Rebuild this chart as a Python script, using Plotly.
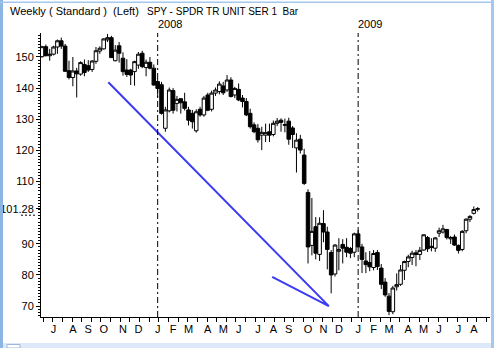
import pandas as pd
import plotly.graph_objects as go

# ---------------- data ----------------
week_ending = pd.date_range("2007-06-15", periods=114, freq="W-FRI")

open_ = [150.1, 153.3, 150.4, 150.9, 153.2, 155.2, 153.5, 145.6, 143.4, 145.5,
         144.5, 147.6, 147.2, 146.0, 148.6, 151.9, 152.6, 155.5, 156.2, 148.8,
         153.6, 149.6, 145.8, 145.8, 145.3, 147.4, 151.2, 146.6, 148.3, 146.4,
         142.1, 141.1, 127.1, 132.7, 139.2, 135.1, 136.6, 135.6, 133.0, 131.9,
         126.3, 133.2, 131.4, 137.8, 133.2, 138.4, 138.9, 140.7, 139.4, 142.6,
         137.8, 139.6, 136.8, 135.7, 131.9, 128.2, 127.1, 124.9, 124.9, 126.0,
         125.1, 128.7, 129.7, 128.3, 129.4, 127.2, 120.8, 123.6, 118.5, 106.5,
         89.5, 95.5, 86.6, 96.5, 93.8, 87.2, 80.3, 87.6, 89.8, 88.9,
         88.5, 87.3, 93.2, 89.0, 84.5, 84.0, 82.4, 87.2, 82.2, 77.7,
         73.2, 68.2, 76.2, 77.0, 81.5, 84.3, 85.6, 87.1, 86.6, 88.0,
         92.0, 89.2, 88.6, 93.4, 93.8, 94.6, 91.6, 92.2, 89.5, 88.2,
         94.2, 97.9, 99.8, 101.1]
high = [153.6, 154.0, 152.6, 153.6, 155.6, 156.2, 154.2, 148.8, 150.0, 146.5,
        148.6, 149.2, 149.0, 149.0, 153.2, 153.4, 156.0, 157.4, 156.8, 153.8,
        154.8, 151.5, 149.3, 146.2, 148.8, 151.6, 152.0, 149.2, 150.0, 147.6,
        143.0, 142.0, 134.0, 140.2, 140.0, 137.5, 136.8, 138.5, 134.0, 133.0,
        133.2, 134.0, 137.5, 138.5, 139.2, 140.2, 142.2, 142.0, 144.2, 143.5,
        140.4, 141.5, 137.8, 136.8, 133.4, 129.0, 128.5, 127.6, 128.6, 128.6,
        129.6, 130.4, 130.3, 130.2, 130.5, 127.8, 125.5, 125.0, 120.5, 107.5,
        104.7, 98.6, 98.5, 100.8, 95.5, 88.0, 89.9, 91.8, 91.5, 91.8,
        89.0, 93.6, 94.5, 90.0, 87.3, 87.7, 88.0, 88.0, 83.5, 79.0,
        74.2, 76.5, 80.5, 83.2, 84.6, 86.5, 87.8, 88.0, 89.0, 93.0,
        92.5, 91.8, 92.2, 95.2, 96.1, 94.8, 92.5, 93.0, 89.8, 94.4,
        98.2, 99.2, 102.0, 101.8]
low = [149.8, 150.2, 148.8, 150.5, 151.0, 152.6, 145.2, 142.8, 140.6, 137.0,
       144.0, 143.8, 145.2, 145.2, 147.8, 151.0, 152.4, 154.8, 149.8, 148.6,
       148.2, 144.0, 143.6, 141.0, 140.8, 146.2, 146.4, 143.8, 146.0, 140.8,
       137.0, 131.5, 126.0, 132.2, 131.8, 132.5, 131.8, 132.8, 128.0, 127.0,
       125.7, 130.8, 130.8, 132.6, 132.5, 137.5, 138.0, 137.8, 138.8, 137.0,
       136.8, 135.8, 133.8, 131.0, 127.0, 125.5, 122.5, 120.1, 122.7, 122.7,
       124.5, 127.8, 126.0, 125.8, 121.8, 120.8, 112.9, 119.0, 108.9, 83.7,
       86.3, 85.0, 84.5, 90.5, 81.8, 74.1, 79.5, 81.5, 83.7, 85.7,
       85.4, 85.7, 88.0, 80.6, 80.6, 81.2, 81.5, 81.6, 75.5, 73.0,
       67.1, 67.4, 75.0, 76.5, 78.4, 82.5, 83.2, 82.8, 84.8, 87.8,
       87.4, 87.6, 87.4, 92.2, 93.3, 91.4, 90.0, 89.3, 86.9, 87.6,
       93.4, 97.0, 99.4, 100.4]
close = [153.3, 150.4, 150.9, 153.2, 155.2, 153.5, 145.4, 143.4, 145.5, 144.6,
         148.2, 145.0, 145.8, 148.7, 152.0, 152.8, 155.8, 156.2, 149.8, 152.2,
         151.2, 145.3, 144.4, 144.2, 148.5, 150.9, 146.9, 148.3, 146.4, 141.0,
         139.9, 131.9, 133.0, 139.4, 132.9, 136.4, 135.3, 133.5, 129.7, 129.2,
         132.4, 131.4, 136.8, 132.9, 138.4, 139.4, 141.3, 138.5, 142.6, 137.3,
         139.9, 136.2, 135.7, 131.4, 127.6, 126.0, 123.4, 125.8, 125.7, 124.9,
         128.7, 129.4, 129.0, 128.1, 123.6, 125.1, 123.3, 120.1, 109.4, 89.0,
         94.0, 87.0, 96.6, 93.8, 88.2, 80.0, 89.6, 88.2, 88.6, 87.3,
         87.0, 93.2, 89.0, 85.0, 83.3, 82.6, 86.9, 82.7, 77.0, 73.6,
         68.3, 75.8, 76.9, 81.6, 84.3, 85.8, 87.0, 86.6, 87.9, 92.9,
         88.4, 88.8, 91.9, 94.2, 94.8, 92.0, 92.0, 89.6, 87.9, 94.0,
         97.9, 98.8, 101.0, 101.28]

price_ticks = [70, 80, 90, 101.28, 110, 120, 130, 140, 150]
month_letters = ["J", "F", "M", "A", "M", "J", "J", "A", "S", "O", "N", "D"]

# hand-drawn trend line (bar index, price)
trend_bar = [17.2, 74.4, 59.7]
trend_price = [141.9, 70.0, 79.4]

# ---------------- derived ----------------
bars = list(range(len(week_ending)))
mondays = week_ending - pd.Timedelta(days=4)
month_pos, month_txt, year_pos, year_txt = [], [], [], []
for i in range(1, len(mondays)):
    if mondays[i].month != mondays[i - 1].month:
        month_pos.append(i)
        month_txt.append(month_letters[mondays[i].month - 1])
        if mondays[i].month == 1:
            year_pos.append(i)
            year_txt.append(str(mondays[i].year))

# ---------------- figure ----------------
FONT = "Liberation Sans, Arial, sans-serif"
W, H = 497, 348
L, R, T, B = 41, 7, 33, 31
pw, ph = W - L - R, H - T - B
Y_RANGE = [66.5, 157.7]


def px(xp):
    return (xp - L) / pw


def py(yp):
    return (H - B - yp) / ph


fig = go.Figure()
fig.add_trace(go.Candlestick(
    x=bars, open=open_, high=high, low=low, close=close,
    increasing=dict(line=dict(color="black", width=1), fillcolor="white"),
    decreasing=dict(line=dict(color="black", width=1), fillcolor="black"),
    whiskerwidth=0, showlegend=False, hoverinfo="skip",
))
fig.add_trace(go.Scatter(
    x=trend_bar, y=trend_price, mode="lines",
    line=dict(color="#3b3bf2", width=2), showlegend=False, hoverinfo="skip",
))

shapes = []
for xp in year_pos:
    shapes.append(dict(type="line", xref="x", yref="paper", x0=xp, x1=xp, y0=0, y1=1,
                       line=dict(color="black", width=1, dash="6px,3px,2px,3px")))
# last-price marker: short dashed line just under the 101.28 label
units_per_px = (Y_RANGE[1] - Y_RANGE[0]) / ph
marker_y = close[-1] - 6.5 * units_per_px
shapes.append(dict(type="line", xref="paper", yref="y", x0=px(21), x1=px(37),
                   y0=marker_y, y1=marker_y,
                   line=dict(color="black", width=1, dash="2px,2px")))
# window frame
frame_blue = "#8db5e4"
shapes += [
    dict(type="rect", xref="paper", yref="paper", x0=px(0), x1=px(3), y0=py(348), y1=py(0),
         fillcolor=frame_blue, line=dict(width=0), layer="above"),
    dict(type="rect", xref="paper", yref="paper", x0=px(491), x1=px(494), y0=py(348), y1=py(0),
         fillcolor="#a6c8ee", line=dict(width=0), layer="above"),
    dict(type="rect", xref="paper", yref="paper", x0=px(0), x1=px(494), y0=py(3), y1=py(1.5),
         fillcolor="#a6c8ee", line=dict(width=0), layer="above"),
    dict(type="rect", xref="paper", yref="paper", x0=px(3), x1=px(491), y0=py(348), y1=py(343),
         fillcolor="#dde9f8", line=dict(width=0), layer="above"),
    dict(type="rect", xref="paper", yref="paper", x0=px(7), x1=px(20), y0=py(348), y1=py(344.5),
         fillcolor="white", line=dict(color="#9bb8d8", width=1), layer="above"),
]

NBSP = "\u00a0"
annotations = [
    dict(text="Weekly ( Standard )" + NBSP * 2 + "(Left)", xref="paper", yref="paper",
         x=px(8), y=py(11), xanchor="left", yanchor="middle", showarrow=False,
         font=dict(size=11, color="black", family=FONT)),
    dict(text="SPY - SPDR TR UNIT SER 1" + NBSP * 2 + "Bar", xref="paper", yref="paper",
         x=px(145), y=py(11), xanchor="left", yanchor="middle", showarrow=False,
         font=dict(size=10, color="black", family=FONT)),
]
for xp, t in zip(year_pos, year_txt):
    annotations.append(dict(text=t, xref="x", yref="paper", x=xp, y=py(24),
                            xanchor="left", yanchor="middle", xshift=-2, showarrow=False,
                            font=dict(size=11, color="black", family=FONT)))

fig.update_layout(
    width=W, height=H,
    margin=dict(l=L, r=R, t=T, b=B, pad=0, autoexpand=False),
    paper_bgcolor="white", plot_bgcolor="white",
    font=dict(family=FONT, size=11, color="black"),
    boxgap=0.08, boxgroupgap=0,
    shapes=shapes, annotations=annotations,
    xaxis=dict(
        range=[-0.26, 116.2], rangeslider=dict(visible=False), automargin=False,
        showline=True, linecolor="black", linewidth=1, mirror=False,
        showgrid=False, zeroline=False,
        tickmode="array", tickvals=month_pos, ticktext=month_txt,
        ticks="", ticklabelstandoff=2,
        tickfont=dict(size=11, color="black", family=FONT),
        minor=dict(tick0=0.3, dtick=2.5, ticks="outside", ticklen=4, tickcolor="black",
                   tickwidth=1, showgrid=False),
    ),
    yaxis=dict(
        range=Y_RANGE, showline=True, linecolor="black", linewidth=1, automargin=False,
        showgrid=False, zeroline=False,
        tickmode="array", tickvals=price_ticks, ticktext=[f"{v:g}" for v in price_ticks],
        ticks="outside", ticklen=4, tickcolor="black", tickwidth=1,
        tickfont=dict(size=11, color="black", family=FONT),
        minor=dict(dtick=1, ticks="outside", ticklen=2, tickcolor="black", tickwidth=1,
                   showgrid=False),
    ),
)

fig.write_html("out.html")
